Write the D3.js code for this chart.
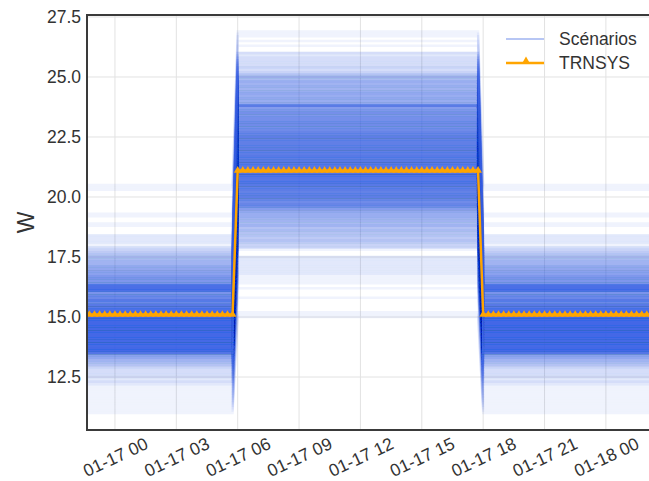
<!DOCTYPE html>
<html>
<head>
<meta charset="utf-8">
<script src="https://cdn.jsdelivr.net/npm/d3@7"></script>
<style>
  html, body { margin: 0; padding: 0; background: #ffffff; }
  svg { display: block; font-family: "Liberation Sans", Arial, sans-serif; }
</style>
</head>
<body>
<svg id="chart" width="649" height="481"></svg>
<script>
// ---------------- data ----------------
// scenario levels during night hours (W) and number of scenarios at each level
const nightLevels = [20.5,20.4,20.3,19.3,19.2,18.9,18.8,18.4,18.3,18.2,18.1,18.0,
  17.9,17.8,17.7,17.6,17.5,17.4,17.3,17.2,17.1,17.0,
  16.9,16.8,16.7,16.6,16.5,16.4,16.3,16.2,16.1,16.0,
  15.9,15.8,15.7,15.6,15.5,15.4,15.3,15.2,15.1,15.0,
  14.9,14.8,14.7,14.6,14.5,14.4,14.3,14.2,14.1,14.0,
  13.9,13.8,13.7,13.6,13.5,13.4,13.3,13.2,13.1,13.0,
  12.9,12.8,12.7,12.6,12.5,12.4,12.3,12.2,12.1,12.0,
  11.9,11.8,11.7,11.6,11.5,11.4,11.3,11.2,11.1,11.0];
const nightCounts = [1,1,1,1,1,1,1,2,2,2,2,1,
  3,4,5,6,7,7,8,8,10,10,
  11,11,13,14,13,14,29,30,29,14,
  17,17,23,17,23,23,29,36,36,36,
  38,38,38,38,37,38,37,37,35,36,
  35,35,37,36,25,11,10,8,7,6,
  4,3,3,3,3,2,3,2,1,1,
  1,1,1,1,1,1,1,1,1,1];

// scenario levels during day hours (W) and number of scenarios at each level
const dayLevels = [26.9,26.8,26.7,26.5,26.3,
  26.0,25.9,25.8,25.7,25.6,25.5,25.4,25.3,25.2,
  25.1,25.0,24.9,24.8,24.7,24.6,24.5,24.4,24.3,24.2,24.1,24.0,23.9,23.8,23.7,
  23.6,23.5,23.4,23.3,23.2,23.1,23.0,22.9,22.8,22.7,22.6,
  22.5,22.4,22.3,22.2,22.1,22.0,21.9,21.8,21.7,21.6,21.5,21.4,
  21.3,21.2,21.1,21.0,
  20.9,20.8,20.7,20.6,20.5,20.4,20.3,20.2,20.1,20.0,
  19.9,19.8,19.7,19.6,
  19.5,19.4,19.3,19.2,19.1,19.0,18.9,18.8,18.7,18.6,18.5,18.4,18.3,18.2,18.1,18.0,17.9,
  17.8,17.5,17.4,17.3,17.2,17.1,17.0,16.9,16.8,16.7,16.6,16.5,16.4,16.2,15.8,15.2,15.1,15.0];
const dayCounts = [1,1,1,1,1,
  3,2,3,3,3,3,4,3,4,
  6,8,7,9,8,9,8,9,10,9,10,9,10,22,12,
  13,15,13,15,15,16,16,15,16,18,18,
  20,19,20,20,20,21,20,21,23,21,23,23,
  24,25,25,25,
  26,25,24,25,23,20,21,19,20,20,
  18,16,18,16,
  12,10,9,9,8,8,7,8,6,7,6,6,5,6,5,4,4,
  1,2,2,2,2,2,2,2,2,1,1,1,1,1,1,1,1,1];

// TRNSYS reference profile (W)
const trnsysNight = 15.1;
const trnsysDay = 21.1;

// time index (15 min steps) and occupation schedule
const seriesStart = new Date(2020, 0, 16, 22, 0);
const seriesEnd = new Date(2020, 0, 18, 3, 0);
const dayStart = new Date(2020, 0, 17, 6, 0);
const dayEnd = new Date(2020, 0, 17, 17, 45);

const yTickValues = [12.5, 15.0, 17.5, 20.0, 22.5, 25.0, 27.5];
const seriesNames = ["Scénarios", "TRNSYS"];

// ---------------- layout ----------------
const svg = d3.select("#chart");
const plot = { left: 87, top: 15, right: 655, bottom: 430 };
const blue = "#4169E1";
const orange = "#FFA500";
const textColor = "#333333";

const x = d3.scaleTime()
  .domain([new Date(2020, 0, 16, 22, 38), new Date(2020, 0, 18, 2, 24)])
  .range([plot.left, plot.right]);
const y = d3.scaleLinear()
  .domain([10.292, 27.583])
  .range([plot.bottom, plot.top]);

const times = d3.timeMinute.every(15).range(seriesStart, d3.timeMinute.offset(seriesEnd, 1));
const isDay = t => t >= dayStart && t <= dayEnd;

svg.append("defs").append("clipPath").attr("id", "clip")
  .append("rect")
  .attr("x", plot.left).attr("y", plot.top)
  .attr("width", plot.right - plot.left).attr("height", plot.bottom - plot.top);

// grid
const xTicks = x.ticks(d3.timeHour.every(3));
const grid = svg.append("g");
grid.selectAll("line.v").data(xTicks).join("line")
  .attr("x1", d => x(d)).attr("x2", d => x(d))
  .attr("y1", plot.top).attr("y2", plot.bottom)
  .attr("stroke", "#e2e2e2").attr("stroke-width", 1);
grid.selectAll("line.h").data(yTickValues).join("line")
  .attr("x1", plot.left).attr("x2", plot.right)
  .attr("y1", d => y(d)).attr("y2", d => y(d))
  .attr("stroke", "#e2e2e2").attr("stroke-width", 1);

// scenarios
const expand = (levels, counts) => {
  const out = [];
  levels.forEach((v, i) => { for (let k = 0; k < counts[i]; k++) out.push(v); });
  return out.sort((a, b) => a - b);
};
const nightList = expand(nightLevels, nightCounts);
const dayList = expand(dayLevels, dayCounts);
const M = Math.max(nightList.length, dayList.length);
const scenarios = d3.range(M).map(j => ({
  night: nightList[Math.floor(j * nightList.length / M)],
  day: dayList[Math.floor(j * dayList.length / M)]
}));

// keep only the time points where the schedule changes (lines are identical)
const keyTimes = times.filter((t, i) =>
  i === 0 || i === times.length - 1 ||
  isDay(t) !== isDay(times[i - 1]) || isDay(t) !== isDay(times[i + 1]));

const line = d3.line().x(d => x(d.t)).y(d => y(d.v));
const plotG = svg.append("g").attr("clip-path", "url(#clip)");
plotG.append("g").selectAll("path").data(scenarios).join("path")
  .attr("d", s => line(keyTimes.map(t => ({ t, v: isDay(t) ? s.day : s.night }))))
  .attr("fill", "none")
  .attr("stroke", blue)
  .attr("stroke-width", 2.4)
  .attr("stroke-opacity", 0.08);

// TRNSYS
const trn = times.map(t => ({ t, v: isDay(t) ? trnsysDay : trnsysNight }));
plotG.append("path")
  .attr("d", line(trn))
  .attr("fill", "none")
  .attr("stroke", orange)
  .attr("stroke-width", 2.5);
const tri = d3.symbol().type(d3.symbolTriangle).size(26);
plotG.append("g").selectAll("path").data(trn).join("path")
  .attr("d", tri)
  .attr("transform", d => `translate(${x(d.t)},${y(d.v)})`)
  .attr("fill", orange);

// axes
const yAxis = svg.append("g")
  .attr("transform", `translate(${plot.left},0)`)
  .call(d3.axisLeft(y).tickValues(yTickValues).tickSize(0).tickPadding(6).tickFormat(d3.format(".1f")));
yAxis.selectAll("text").attr("font-size", 17.5).attr("fill", textColor)
  .attr("font-family", "'Liberation Sans', Arial, sans-serif");

const xAxis = svg.append("g")
  .attr("transform", `translate(0,${plot.bottom})`)
  .call(d3.axisBottom(x).ticks(d3.timeHour.every(3)).tickSize(0).tickFormat(d3.timeFormat("%m-%d %H")));
xAxis.selectAll("text")
  .attr("font-size", 17.5).attr("fill", textColor)
  .attr("font-family", "'Liberation Sans', Arial, sans-serif")
  .attr("y", 0).attr("dy", "0.35em")
  .attr("text-anchor", "middle")
  .attr("transform", "translate(0,27) rotate(-25)");

yAxis.select(".domain").remove();
xAxis.select(".domain").remove();

// spines
const spineColor = "#3a3a3a";
svg.append("line").attr("x1", plot.left).attr("x2", plot.left).attr("y1", plot.top - 1).attr("y2", plot.bottom + 1)
  .attr("stroke", spineColor).attr("stroke-width", 2);
svg.append("line").attr("x1", plot.left - 1).attr("x2", plot.right).attr("y1", plot.top).attr("y2", plot.top)
  .attr("stroke", spineColor).attr("stroke-width", 2);
svg.append("line").attr("x1", plot.left - 1).attr("x2", plot.right).attr("y1", plot.bottom).attr("y2", plot.bottom)
  .attr("stroke", spineColor).attr("stroke-width", 2);

// y label
svg.append("text")
  .attr("transform", `translate(26,${(plot.top + plot.bottom) / 2}) rotate(-90)`)
  .attr("text-anchor", "middle").attr("dominant-baseline", "central")
  .attr("font-size", 23).attr("fill", textColor)
  .text("W");

// legend
const legend = svg.append("g").attr("transform", "translate(506,39)");
legend.append("line").attr("x1", 0).attr("x2", 38).attr("y1", 0).attr("y2", 0)
  .attr("stroke", blue).attr("stroke-width", 1.2).attr("stroke-opacity", 0.75);
legend.append("text").attr("x", 53).attr("y", 0).attr("dy", "0.35em")
  .attr("font-size", 17.5).attr("fill", textColor).text(seriesNames[0]);
const l2 = legend.append("g").attr("transform", "translate(0,24)");
l2.append("line").attr("x1", 0).attr("x2", 38).attr("y1", 0).attr("y2", 0)
  .attr("stroke", orange).attr("stroke-width", 2.5);
l2.append("path").attr("d", d3.symbol().type(d3.symbolTriangle).size(32))
  .attr("transform", "translate(20,-1.5)").attr("fill", orange);
l2.append("text").attr("x", 53).attr("y", 0).attr("dy", "0.35em")
  .attr("font-size", 17.5).attr("fill", textColor).text(seriesNames[1]);
</script>
</body>
</html>
